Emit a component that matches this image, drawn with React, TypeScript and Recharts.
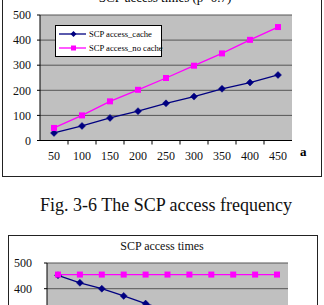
import React from 'react';
import { LineChart, Line, XAxis, YAxis, CartesianGrid, Legend } from 'recharts';

const FONT = '"Liberation Serif", "Times New Roman", serif';

// Top chart: SCP access times (p=0.7)
const topCategories = ['50', '100', '150', '200', '250', '300', '350', '400', '450'];
const topCache = [30, 58, 90, 117, 148, 175, 206, 231, 261];
const topNoCache = [50, 100, 156, 202, 249, 298, 347, 401, 452];
const yTicks = [0, 100, 200, 300, 400, 500];

// Bottom chart: SCP access times (vs p)
const bottomCategories = ['0', '0.1', '0.2', '0.3', '0.4', '0.5', '0.6', '0.7', '0.8', '0.9', '1'];
const bottomCache = [452, 423, 400, 372, 342, 315, 287, 258, 230, 202, 174];
const bottomNoCache = [455, 455, 455, 455, 455, 455, 455, 455, 455, 455, 455];

const seriesNames = ['SCP access_cache', 'SCP access_no cache'];
const seriesColors = ['#000080', '#FF00FF'];

const topData = topCategories.map((c, i) => ({ a: c, cache: topCache[i], nocache: topNoCache[i] }));
const bottomData = bottomCategories.map((c, i) => ({ p: c, cache: bottomCache[i], nocache: bottomNoCache[i] }));

const diamondDot = (color: string, r: number) => (p: any) => {
  const { cx, cy, index } = p;
  if (cx == null || cy == null) return <g key={index} />;
  return (
    <polygon
      key={index}
      points={`${cx},${cy - r} ${cx + r},${cy} ${cx},${cy + r} ${cx - r},${cy}`}
      fill={color}
      stroke={color}
      strokeWidth={0.5}
    />
  );
};

const squareDot = (color: string, s: number) => (p: any) => {
  const { cx, cy, index } = p;
  if (cx == null || cy == null) return <g key={index} />;
  return <rect key={index} x={cx - s} y={cy - s} width={2 * s} height={2 * s} fill={color} />;
};

const makeXTick = (bandHalf: number, tickMargin: number, n: number, fontSize: number) => (p: any) => {
  const { x, y, payload, index } = p;
  const axisY = y - tickMargin;
  return (
    <g>
      {index < n - 1 && (
        <line x1={x + bandHalf} x2={x + bandHalf} y1={axisY} y2={axisY + 4} stroke="#000" strokeWidth={1} />
      )}
      <text x={x} y={y} dy="0.71em" textAnchor="middle" fontSize={fontSize} fontFamily={FONT} fill="#111">
        {payload.value}
      </text>
    </g>
  );
};

const LegendBox = (props: any) => {
  const payload = props.payload || [];
  return (
    <div
      style={{
        width: 107,
        height: 32,
        boxSizing: 'border-box',
        border: '1px solid #000',
        background: '#fff',
        paddingTop: 1,
        fontFamily: FONT,
        fontSize: 8.6,
        color: '#000',
        whiteSpace: 'nowrap',
      }}
    >
      {payload.map((entry: any, i: number) => (
        <div key={i} style={{ height: 14, display: 'flex', alignItems: 'center' }}>
          <svg width={33} height={10} style={{ flex: 'none' }}>
            <line x1={3} x2={30} y1={5} y2={5} stroke={seriesColors[i]} strokeWidth={1.3} />
            {i === 0 ? (
              <polygon points="17.5,2 20.5,5 17.5,8 14.5,5" fill={seriesColors[i]} />
            ) : (
              <rect x={15} y={2.5} width={5} height={5} fill={seriesColors[i]} />
            )}
          </svg>
          <span>{entry.value}</span>
        </div>
      ))}
    </div>
  );
};

export default function App() {
  return (
    <div
      style={{
        position: 'fixed',
        left: 0,
        top: 0,
        width: 324,
        height: 305,
        overflow: 'hidden',
        background: '#fff',
        fontFamily: FONT,
      }}
    >
      {/* Top chart frame */}
      <div
        style={{
          position: 'absolute',
          left: 2,
          top: -20,
          width: 320,
          height: 197,
          boxSizing: 'border-box',
          border: '1px solid #222',
        }}
      />
      <div
        style={{
          position: 'absolute',
          left: 0,
          width: 330,
          top: -9,
          textAlign: 'center',
          fontSize: 13,
          lineHeight: '13px',
          color: '#000',
        }}
      >
        SCP access times (p=0.7)
      </div>
      <div style={{ position: 'absolute', left: 0, top: -20 }}>
        <LineChart width={324} height={197} data={topData} margin={{ top: 35, right: 32, bottom: 6.5, left: 0 }}>
          <CartesianGrid horizontal={true} vertical={false} stroke="#555" fill="#c0c0c0" strokeWidth={1} />
          <XAxis
            dataKey="a"
            height={30}
            padding={{ left: 14, right: 14 }}
            axisLine={{ stroke: '#000' }}
            tickLine={false}
            tickSize={0}
            tickMargin={11}
            interval={0}
            tick={makeXTick(14, 11, topCategories.length, 12)}
            label={{
              value: 'a',
              position: 'right',
              offset: 8,
              dy: -4,
              style: { fontWeight: 'bold', fontSize: 13, fontFamily: FONT, fill: '#000' },
            }}
          />
          <YAxis
            width={40}
            domain={[0, 500]}
            ticks={yTicks}
            interval={0}
            axisLine={{ stroke: '#000' }}
            tickLine={{ stroke: '#000' }}
            tickSize={3}
            tickMargin={6}
            tick={{ fontSize: 12, fontFamily: FONT, fill: '#111' }}
          />
          <YAxis
            yAxisId="frame"
            orientation="right"
            width={0}
            domain={[0, 500]}
            tick={false}
            tickLine={false}
            axisLine={{ stroke: '#999' }}
          />
          <Legend
            layout="vertical"
            align="center"
            verticalAlign="middle"
            wrapperStyle={{ left: 55, top: 45, width: 107, height: 32 }}
            content={LegendBox}
          />
          <Line
            type="linear"
            dataKey="cache"
            name={seriesNames[0]}
            stroke={seriesColors[0]}
            strokeWidth={1.3}
            dot={diamondDot(seriesColors[0], 3.5)}
            activeDot={false}
            isAnimationActive={false}
          />
          <Line
            type="linear"
            dataKey="nocache"
            name={seriesNames[1]}
            stroke={seriesColors[1]}
            strokeWidth={1.3}
            dot={squareDot(seriesColors[1], 3)}
            activeDot={false}
            isAnimationActive={false}
          />
        </LineChart>
      </div>

      {/* Caption */}
      <div
        style={{
          position: 'absolute',
          left: 0,
          width: 332,
          top: 195,
          textAlign: 'center',
          fontSize: 18,
          lineHeight: '20px',
          color: '#111',
        }}
      >
        Fig. 3-6 The SCP access frequency
      </div>

      {/* Bottom chart frame */}
      <div
        style={{
          position: 'absolute',
          left: 8,
          top: 235,
          width: 310,
          height: 200,
          boxSizing: 'border-box',
          border: '1px solid #222',
        }}
      />
      <div
        style={{
          position: 'absolute',
          left: 0,
          width: 324,
          top: 239,
          textAlign: 'center',
          fontSize: 12,
          lineHeight: '14px',
          color: '#111',
        }}
      >
        SCP access times
      </div>
      <div style={{ position: 'absolute', left: 0, top: 235 }}>
        <LineChart width={324} height={200} data={bottomData} margin={{ top: 28, right: 36, bottom: 13.5, left: 0 }}>
          <CartesianGrid horizontal={true} vertical={false} stroke="#555" fill="#c0c0c0" strokeWidth={1} />
          <XAxis
            dataKey="p"
            height={30}
            padding={{ left: 11, right: 11 }}
            axisLine={{ stroke: '#000' }}
            tickLine={false}
            tickSize={0}
            tickMargin={11}
            interval={0}
            tick={makeXTick(11, 11, bottomCategories.length, 12)}
          />
          <YAxis
            width={47}
            domain={[0, 500]}
            ticks={yTicks}
            interval={0}
            axisLine={{ stroke: '#000' }}
            tickLine={{ stroke: '#000' }}
            tickSize={3}
            tickMargin={12}
            tick={{ fontSize: 12, fontFamily: FONT, fill: '#111' }}
          />
          <YAxis
            yAxisId="frame"
            orientation="right"
            width={0}
            domain={[0, 500]}
            tick={false}
            tickLine={false}
            axisLine={{ stroke: '#999' }}
          />
          <Line
            type="linear"
            dataKey="cache"
            name={seriesNames[0]}
            stroke={seriesColors[0]}
            strokeWidth={1.3}
            dot={diamondDot(seriesColors[0], 3.5)}
            activeDot={false}
            isAnimationActive={false}
          />
          <Line
            type="linear"
            dataKey="nocache"
            name={seriesNames[1]}
            stroke={seriesColors[1]}
            strokeWidth={1.3}
            dot={squareDot(seriesColors[1], 3)}
            activeDot={false}
            isAnimationActive={false}
          />
        </LineChart>
      </div>
    </div>
  );
}
